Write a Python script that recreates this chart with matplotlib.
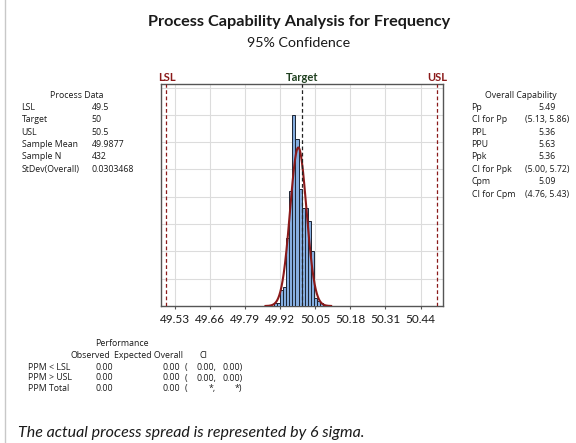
import matplotlib
matplotlib.use("Agg")
import matplotlib.pyplot as plt
import numpy as np

W, H = 576, 443

# spec limits and summary stats
lsl, target, usl = 49.5, 50.0, 50.5
sample_mean = 49.9877
sample_n = 432
stdev_overall = 0.0303468

# histogram
bin_start = 49.8967
bin_width = 0.01147
counts = [1, 1, 6, 7, 25, 42, 70, 61, 43, 36, 36, 31, 20, 3, 2, 1]

xticks = [49.53, 49.66, 49.79, 49.92, 50.05, 50.18, 50.31, 50.44]

process_labels = ["LSL", "Target", "USL", "Sample Mean", "Sample N", "StDev(Overall)"]
process_values = ["49.5", "50", "50.5", "49.9877", "432", "0.0303468"]

cap_labels = ["Pp", "CI for Pp", "PPL", "PPU", "Ppk", "CI for Ppk", "Cpm", "CI for Cpm"]
cap_values = ["5.49", "(5.13, 5.86)", "5.36", "5.63", "5.36", "(5.00, 5.72)", "5.09", "(4.76, 5.43)"]

perf_rows = ["PPM < LSL", "PPM > USL", "PPM Total"]
perf_observed = ["0.00", "0.00", "0.00"]
perf_expected = ["0.00", "0.00", "0.00"]
perf_ci_lo = ["0.00,", "0.00,", "*,"]
perf_ci_hi = ["0.00)", "0.00)", "*)"]

plt.rcParams['font.family'] = ['Lato', 'DejaVu Sans']

RED = "#8b1a1a"
GREEN = "#1f3f1f"
TXT = "#1a1a1a"
SMALL = dict(fontsize=6.3, family=['Open Sans', 'DejaVu Sans'], color=TXT, va='center')


def px(x, y):
    return x / W, 1 - y / H


fig = plt.figure(figsize=(W / 100, H / 100), dpi=100)

ax = fig.add_axes([161 / W, (H - 306) / H, 282 / W, 222 / H])
edges = bin_start + bin_width * np.arange(len(counts) + 1)
ax.bar(edges[:-1], counts, width=bin_width, align='edge',
       color="#86aee0", edgecolor="#1c2433", linewidth=0.7, zorder=3)

xs = np.linspace(sample_mean - 4 * stdev_overall, sample_mean + 4 * stdev_overall, 300)
pdf = np.exp(-0.5 * ((xs - sample_mean) / stdev_overall) ** 2) / (stdev_overall * np.sqrt(2 * np.pi))
ax.plot(xs, sum(counts) * bin_width * pdf, color=RED, lw=1.5, zorder=4)

ax.axvline(lsl, color=RED, ls=(0, (3, 2)), lw=0.9, zorder=5)
ax.axvline(usl, color=RED, ls=(0, (3, 2)), lw=0.9, zorder=5)
ax.axvline(target, color="#222222", ls=(0, (3, 2)), lw=0.9, zorder=5)

ax.set_xlim(49.4797, 50.523)
ax.set_ylim(0, 81.3)
ax.set_xticks(xticks)
ax.set_xticklabels([f"{t:.2f}" for t in xticks])
ax.set_yticks(np.arange(10, 81, 10))
ax.tick_params(axis='y', left=False, labelleft=False)
ax.tick_params(axis='x', length=2.5, width=0.8, color="#555555", labelsize=8.5, pad=3,
               labelcolor=TXT)
ax.grid(True, color="#dcdcdc", lw=0.8, zorder=0)
for s in ax.spines.values():
    s.set_color("#555555")
    s.set_linewidth(1.0)

ax.text(lsl, 1.005, "LSL", transform=ax.get_xaxis_transform(), ha='center', va='bottom',
        fontsize=8, color=RED, fontweight='bold')
ax.text(usl, 1.005, "USL", transform=ax.get_xaxis_transform(), ha='center', va='bottom',
        fontsize=8, color=RED, fontweight='bold')
ax.text(target, 1.005, "Target", transform=ax.get_xaxis_transform(), ha='center', va='bottom',
        fontsize=8, color=GREEN, fontweight='bold')

# titles
fig.text(*px(299, 22), "Process Capability Analysis for Frequency", ha='center', va='center',
         fontsize=11.7, fontweight='bold', color=TXT)
fig.text(*px(299, 43), "95% Confidence", ha='center', va='center', fontsize=10.3, color=TXT)

# process data
fig.text(*px(77, 95), "Process Data", ha='center', **SMALL)
for i, (lab, val) in enumerate(zip(process_labels, process_values)):
    y = 107.3 + i * 12.4
    fig.text(*px(21.5, y), lab, ha='left', **SMALL)
    fig.text(*px(91.5, y), val, ha='left', **SMALL)

# overall capability
fig.text(*px(520.5, 95), "Overall Capability", ha='center', **SMALL)
for i, (lab, val) in enumerate(zip(cap_labels, cap_values)):
    y = 107.3 + i * 12.4
    fig.text(*px(471.5, y), lab, ha='left', **SMALL)
    fig.text(*px(547, y), val, ha='center', **SMALL)

# performance
fig.text(*px(121.7, 344), "Performance", ha='center', **SMALL)
fig.text(*px(110, 355.7), "Observed", ha='right', **SMALL)
fig.text(*px(182.5, 355.7), "Expected Overall", ha='right', **SMALL)
fig.text(*px(203, 355.7), "CI", ha='center', **SMALL)
for i, lab in enumerate(perf_rows):
    y = 367.3 + i * 10.7
    fig.text(*px(28.3, y), lab, ha='left', **SMALL)
    fig.text(*px(112.7, y), perf_observed[i], ha='right', **SMALL)
    fig.text(*px(180, y), perf_expected[i], ha='right', **SMALL)
    fig.text(*px(185, y), "(", ha='left', **SMALL)
    fig.text(*px(216, y), perf_ci_lo[i], ha='right', **SMALL)
    fig.text(*px(242.5, y), perf_ci_hi[i], ha='right', **SMALL)

fig.text(*px(18, 433), "The actual process spread is represented by 6 sigma.", ha='left', va='center',
         fontsize=11.5, style='italic', color=TXT)

# left border line of the output pane
fig.add_artist(plt.Line2D([5 / W, 5 / W], [0, 1], color="#c8c8c8", lw=1.0))

fig.savefig("out.png", dpi=100)
